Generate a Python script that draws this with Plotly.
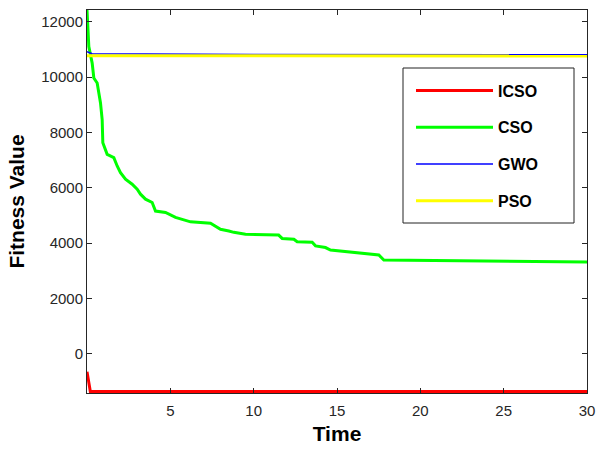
import plotly.graph_objects as go

# ---- data ----
icso_x = [0.0, 0.1, 0.2, 1.0, 10.0, 20.0, 30.0]
icso_y = [-650, -1100, -1370, -1370, -1370, -1370, -1370]

cso_x = [0.0, 0.11, 0.31, 0.41, 0.61, 0.81, 0.91, 0.95, 1.21, 1.61, 1.81, 2.01, 2.31,
         2.71, 3.01, 3.21, 3.51, 3.91, 4.11, 4.71, 5.31, 6.21, 7.41, 8.01, 8.51, 8.81,
         9.51, 11.5, 11.71, 12.41, 12.61, 13.51, 13.71, 14.31, 14.61, 15.61, 17.0,
         17.51, 17.81, 23.4, 26.0, 30.0]
cso_y = [12430, 11110, 10510, 9970, 9790, 9070, 8470, 7630, 7210, 7090, 6790, 6550, 6310,
         6130, 5950, 5770, 5590, 5470, 5160, 5110, 4930, 4770, 4720, 4500, 4440, 4390,
         4320, 4290, 4170, 4140, 4050, 4030, 3900, 3840, 3750, 3690, 3600,
         3570, 3390, 3360, 3330, 3320]

gwo_x = [0.0, 0.15, 0.3, 10.0, 20.0, 30.0]
gwo_y = [10920, 10880, 10850, 10825, 10815, 10810]

pso_x = [0.0, 10.0, 20.0, 30.0]
pso_y = [10775, 10772, 10770, 10770]

x_ticks = [5, 10, 15, 20, 25, 30]
y_ticks = [0, 2000, 4000, 6000, 8000, 10000, 12000]

FONT = "Liberation Sans, Arial, sans-serif"
AX = "#262626"

fig = go.Figure()
fig.add_trace(go.Scatter(x=icso_x, y=icso_y, mode="lines", name="ICSO",
                         line=dict(color="#ff0000", width=3), legendgroup="a"))
fig.add_trace(go.Scatter(x=cso_x, y=cso_y, mode="lines", name="CSO",
                         line=dict(color="#00ff00", width=3), legendgroup="b"))
fig.add_trace(go.Scatter(x=gwo_x, y=gwo_y, mode="lines", name="GWO",
                         line=dict(color="#0000ff", width=1.5), legendgroup="c"))
fig.add_trace(go.Scatter(x=pso_x, y=pso_y, mode="lines", name="PSO",
                         line=dict(color="#ffff00", width=3), legendgroup="d"))

# legend frame (paper coords): plot area x 87..587, y 10..393
fig.add_shape(type="rect", xref="paper", yref="paper",
              x0=(403 - 87) / 500, x1=(574 - 87) / 500,
              y0=(393 - 223) / 383, y1=(393 - 68) / 383,
              line=dict(color="#222222", width=1), fillcolor="white", layer="above")

fig.update_layout(
    width=596, height=450,
    margin=dict(l=87, r=9, t=10, b=57, autoexpand=False),
    paper_bgcolor="white", plot_bgcolor="white",
    font=dict(family=FONT, size=15, color=AX),
    legend=dict(
        x=(411 - 87) / 500, y=(393 - 73.5) / 383, xanchor="left", yanchor="top",
        bgcolor="rgba(0,0,0,0)", borderwidth=0,
        font=dict(family=FONT, size=16, color="black", weight="bold"),
        tracegroupgap=13, itemwidth=77,
    ),
    xaxis=dict(
        range=[0, 30], tickvals=x_ticks, ticktext=[str(v) for v in x_ticks],
        ticks="inside", ticklen=5, tickcolor=AX, showline=True, linecolor=AX,
        linewidth=1, mirror="ticks", showgrid=False, zeroline=False, automargin=False,
        tickfont=dict(size=15, color=AX), ticklabelstandoff=4,
        title=dict(text="Time", font=dict(size=21, color="black", weight="bold"), standoff=8),
    ),
    yaxis=dict(
        range=[-1420, 12430], tickvals=y_ticks, ticktext=[str(v) for v in y_ticks],
        ticks="inside", ticklen=5, tickcolor=AX, showline=True, linecolor=AX,
        linewidth=1, mirror="ticks", showgrid=False, zeroline=False, automargin=False,
        tickfont=dict(size=15, color=AX),
        title=dict(text="Fitness Value", font=dict(size=21, color="black", weight="bold"), standoff=10),
    ),
)

fig.write_html("out.html", config={"displayModeBar": False},
               post_script="document.body.style.margin='0';")
